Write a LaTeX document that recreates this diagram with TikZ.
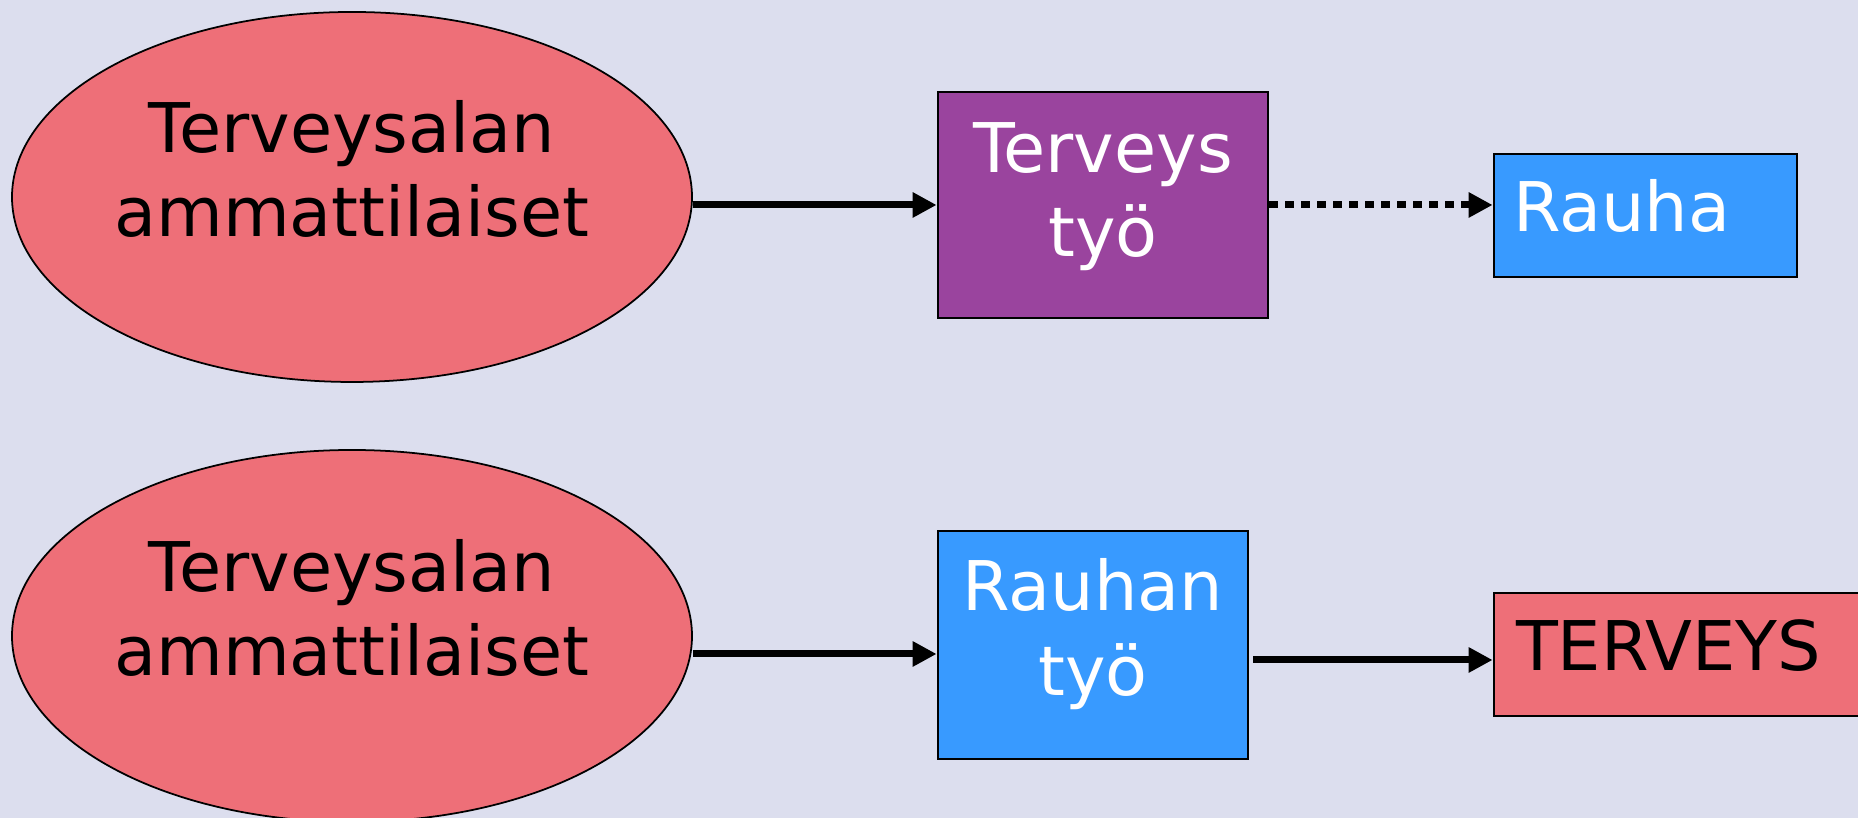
\documentclass[tikz,border=0pt]{standalone}
\usepackage{fontspec}
\setmainfont{DejaVu Sans}
\usetikzlibrary{shapes.geometric}
\usetikzlibrary{arrows.meta}

\definecolor{taustasini}{RGB}{220,222,238}
\definecolor{lohi}{RGB}{238,111,120}
\definecolor{violetti}{RGB}{154,68,158}
\definecolor{taivas}{RGB}{56,154,255}

\begin{document}
\begin{tikzpicture}[
    soikio/.style={ellipse,draw,line width=0.5pt,fill=lohi,minimum width=6.8cm,minimum height=3.7cm,inner sep=0},
    laatikko/.style={rectangle,draw,line width=0.8pt,inner sep=0},
    teksti/.style={inner sep=0,outer sep=0,align=center,font=\fontsize{19.5}{24}\selectfont},
    nuoli/.style={line width=2pt,-{Triangle[length=0.24cm,width=0.24cm]}}]
    \path[use as bounding box,fill=taustasini] (0,0) rectangle (18.58,8.18);
    \clip (0,0) rectangle (18.58,8.18);
    % ylarivi
    \node[soikio] (amm1) at (3.52,6.21) {};
    \node[teksti] (amm1txt) at (3.52,6.49) {Terveysalan\\ammattilaiset};
    \node[laatikko,fill=violetti,minimum width=3.3cm,minimum height=2.26cm] (tyo1) at (11.03,6.13) {};
    \node[teksti,white] (tyo1txt) at (11.03,6.215) {Terveys\\työ};
    \node[laatikko,fill=taivas,minimum width=3.03cm,minimum height=1.23cm] (rauha) at (16.455,6.025) {};
    \node[teksti,white,anchor=base west] (rauhatxt) at (15.13,5.86) {Rauha};
    \draw[nuoli] (tyo1.west -| amm1.east) -- (tyo1.west);
    \draw[nuoli,dash pattern=on 0.085cm off 0.075cm] (tyo1.east) -- (tyo1.east -| rauha.west);
    % alarivi
    \node[soikio,minimum height=3.72cm] (amm2) at (3.52,1.82) {};
    \node[teksti] (amm2txt) at (3.52,2.10) {Terveysalan\\ammattilaiset};
    \node[laatikko,fill=taivas,minimum width=3.1cm,minimum height=2.28cm] (tyo2) at (10.93,1.73) {};
    \node[teksti,white] (tyo2txt) at (10.93,1.84) {Rauhan\\työ};
    \node[laatikko,fill=lohi,minimum width=3.9cm,minimum height=1.23cm] (terveys) at (16.89,1.635) {};
    \node[teksti,anchor=base west] (terveystxt) at (15.16,1.47) {TERVEYS};
    \coordinate (kohde2) at ([yshift=-0.09cm]tyo2.west);
    \coordinate (kohde3) at ([yshift=-0.055cm]terveys.west);
    \coordinate (alku3) at (12.53,1.58);
    \draw[nuoli] (kohde2 -| amm2.east) -- (kohde2);
    \draw[nuoli] (alku3) -- (kohde3);
\end{tikzpicture}
\end{document}
